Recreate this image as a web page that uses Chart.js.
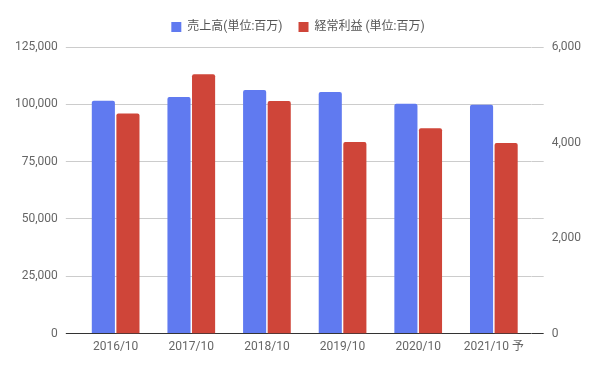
<!DOCTYPE html>
<html>
<head>
<meta charset="utf-8">
<script src="https://cdn.jsdelivr.net/npm/chart.js@4/dist/chart.umd.min.js"></script>
<style>
  html, body { margin: 0; padding: 0; background: #fff; }
  #wrap { width: 596px; height: 370px; }
</style>
</head>
<body>
<div id="wrap"><canvas id="chart1"></canvas></div>
<script>
// categories and values
var labels = ['2016/10', '2017/10', '2018/10', '2019/10', '2020/10', '2021/10 予'];
var sales = [101600, 103200, 106300, 105400, 100300, 99800];     // 売上高, left axis
var profit = [4610, 5430, 4870, 4010, 4300, 3990];               // 経常利益, right axis
var seriesNames = ['売上高(単位:百万)', '経常利益 (単位:百万)'];

var fontFamily = "Roboto, 'Noto Sans CJK JP', sans-serif";
var textColor = '#666';

// grid colour: dark base line at 0, light grey elsewhere
function gridColor(c) {
    return c.tick && c.tick.value === 0 ? '#333' : '#ccc';
}

// a bit more room under the legend
var legendMargin = {
    id: 'legendMargin',
    beforeInit: function(chart) {
        var fit = chart.legend.fit;
        chart.legend.fit = function() {
            fit.bind(chart.legend)();
            this.height += 4;
        };
    }
};

var ctx = document.getElementById('chart1');
var myChart = new Chart(ctx, {
    type: 'bar',
    data: {
        labels: labels,
        datasets: [
            {
                label: seriesNames[0],
                data: sales,
                yAxisID: 'y',
                backgroundColor: '#607af0',
                borderRadius: 2,
                categoryPercentage: 0.65,
                barPercentage: 0.94
            },
            {
                label: seriesNames[1],
                data: profit,
                yAxisID: 'y1',
                backgroundColor: '#cf4539',
                borderRadius: 2,
                categoryPercentage: 0.65,
                barPercentage: 0.94
            }
        ]
    },
    plugins: [legendMargin],
    options: {
        responsive: true,
        maintainAspectRatio: false,
        animation: false,
        layout: { padding: { left: 7, right: 7, top: 5, bottom: 10 } },
        plugins: {
            tooltip: { enabled: false },
            legend: {
                position: 'top',
                labels: {
                    boxWidth: 10,
                    boxHeight: 10,
                    padding: 16,
                    color: '#555',
                    font: { family: fontFamily, size: 12 }
                }
            }
        },
        scales: {
            x: {
                grid: { display: false, drawTicks: false },
                border: { display: false },
                ticks: { color: textColor, padding: 6, font: { family: fontFamily, size: 12 } }
            },
            y: {
                position: 'left',
                min: 0,
                max: 125000,
                grid: { color: gridColor, tickLength: 12 },
                border: { display: false },
                ticks: {
                    stepSize: 25000,
                    padding: 8,
                    color: textColor,
                    font: { family: fontFamily, size: 12 },
                    callback: function(v) { return v.toLocaleString('en-US'); }
                }
            },
            // only carries the grid line ends past the right edge of the plot
            yr: {
                position: 'right',
                weight: 0,
                min: 0,
                max: 125000,
                grid: { drawOnChartArea: false, color: gridColor, tickLength: 12 },
                border: { display: false },
                ticks: { display: false, stepSize: 25000 }
            },
            y1: {
                position: 'right',
                weight: 1,
                min: 0,
                max: 6000,
                grid: { display: false, drawTicks: false },
                border: { display: false },
                ticks: {
                    stepSize: 2000,
                    padding: 8,
                    color: textColor,
                    font: { family: fontFamily, size: 12 },
                    callback: function(v) { return v.toLocaleString('en-US'); }
                }
            }
        }
    }
});
</script>
</body>
</html>
